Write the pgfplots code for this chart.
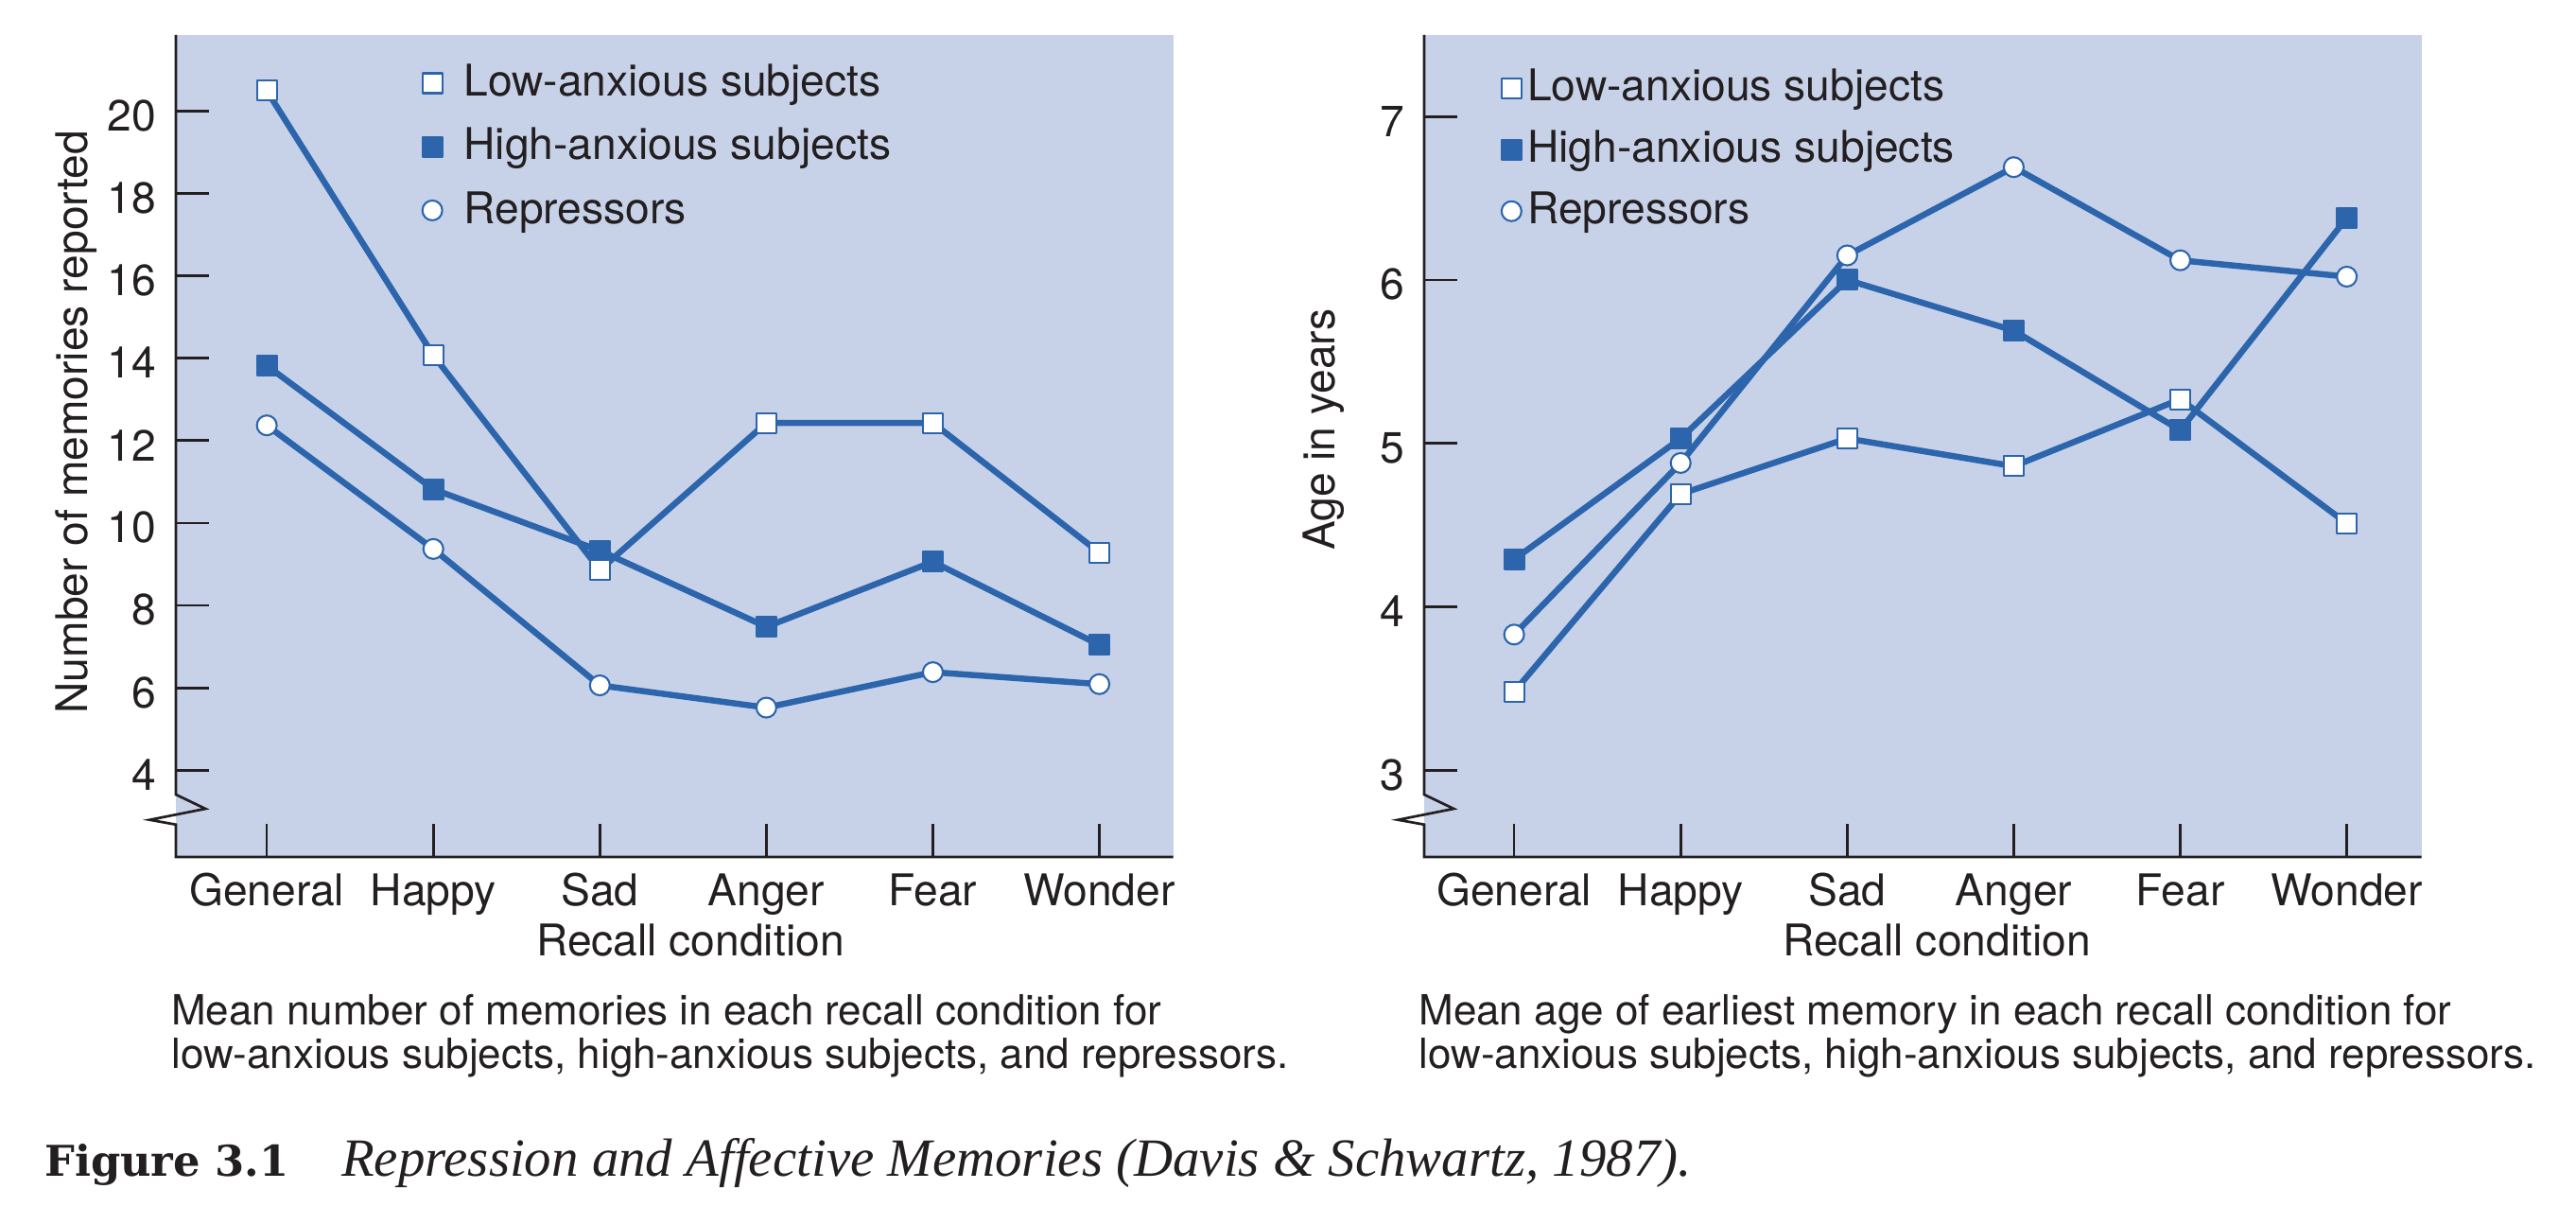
\documentclass[border=0pt]{standalone}
\usepackage{fontspec}
\usepackage{pgfplots}
\pgfplotsset{compat=1.18}
\setmainfont{TeX Gyre Heros}
\newfontfamily\capserif{Liberation Serif}
\newfontfamily\capbold{DejaVu Serif}

\definecolor{bgcol}{RGB}{199,210,233}
\definecolor{lineblue}{RGB}{44,101,172}
\definecolor{inkcol}{RGB}{35,31,32}

\newcommand{\labfont}{\fontsize{13.2}{15.8}\selectfont}
\newcommand{\capfont}{\fontsize{12.56}{15}\selectfont}

\tikzset{spine/.style={draw=inkcol, line width=0.77pt, line join=miter}}

\pgfplotsset{
  series/.style={color=lineblue, line width=1.85pt, line join=round, mark size=3pt},
  lowanx/.style={series, mark=square*, mark options={draw=lineblue, fill=white, line width=0.6pt}},
  highanx/.style={series, mark=square*, mark options={draw=lineblue, fill=lineblue, line width=0.6pt}},
  repress/.style={series, mark=*, mark options={draw=lineblue, fill=white, line width=0.6pt}},
  panel/.style={
    scale only axis, width=301.3pt, height=248.34pt,
    axis lines*=left, axis line style={draw=none},
    axis background/.style={fill=bgcol},
    clip=false,
    tick align=inside, major tick length=9.9pt,
    tick style={draw=inkcol, line width=0.77pt},
    xtick={0,...,5},
    xticklabels={General,Happy,Sad,Anger,Fear,Wonder},
    /pgf/number format/assume math mode=true,
    tick label style={font=\labfont, text=inkcol},
    label style={font=\labfont, text=inkcol},
    xticklabel style={anchor=base, inner sep=0pt, yshift=-14.66pt},
    yticklabel style={anchor=east, inner sep=0pt, xshift=-5.8pt, yshift=-1.4pt},
    xlabel={Recall condition},
    legend image code/.code={\path[##1] plot coordinates {(3pt,3.9pt)};},
    legend cell align=left,
  },
}

\begin{document}
\begin{tikzpicture}
\useasboundingbox (0,0) rectangle (778.286pt,369.714pt);

% Left panel: number of memories
\begin{axis}[panel,
  at={(53.143pt,110.857pt)}, anchor=south west,
  xmin=-0.546, xmax=5.443, ymin=1.895, ymax=21.848,
  ytick={4,6,...,20},
  xlabel style={at={(rel axis cs:0.5158,0)}, anchor=base, inner sep=0pt, yshift=-29.9pt},
  ylabel={Number of memories reported},
  ylabel style={at={(rel axis cs:-0.0885,0.529)}, anchor=base, inner sep=0pt},
  legend style={draw=none, fill=none, inner sep=0pt, outer sep=0pt,
    at={(0.2472,0.9656)}, anchor=north west,
    row sep=6.2pt, column sep=6.5pt,
    font=\labfont, text=inkcol,
    nodes={inner sep=0pt, text height=10pt, text depth=3pt, anchor=base west}},
]
\addlegendimage{lowanx}
\addlegendentry{Low-anxious subjects}
\addlegendimage{highanx}
\addlegendentry{High-anxious subjects}
\addlegendimage{repress}
\addlegendentry{Repressors}

\addplot[highanx, forget plot] coordinates {(0,13.82) (1,10.82) (2,9.33) (3,7.48) (4,9.06) (5,7.04)};
\addplot[repress, forget plot] coordinates {(0,12.37) (1,9.37) (2,6.06) (3,5.52) (4,6.38) (5,6.09)};
\addplot[lowanx, forget plot] coordinates {(0,20.49) (1,14.07) (2,8.86) (3,12.43) (4,12.43) (5,9.28)};

% axis spine with a break in the y axis
\draw[spine] (rel axis cs:0,1) -- (rel axis cs:0,0.0759) -- ++(8.94pt,-4.29pt)
  -- ++(-16.86pt,-3.34pt) -- ++(7.91pt,-1.43pt) -- (rel axis cs:0,0) -- (rel axis cs:1,0);
\end{axis}

% Right panel: age of earliest memory
\begin{axis}[panel,
  at={(430.286pt,110.857pt)}, anchor=south west,
  xmin=-0.54, xmax=5.448, ymin=2.469, ymax=7.5,
  ytick={3,...,7},
  xlabel style={at={(rel axis cs:0.514,0)}, anchor=base, inner sep=0pt, yshift=-29.9pt},
  ylabel={Age in years},
  ylabel style={at={(rel axis cs:-0.0894,0.5198)}, anchor=base, inner sep=0pt},
  legend style={draw=none, fill=none, inner sep=0pt, outer sep=0pt,
    at={(0.0776,0.9598)}, anchor=north west,
    row sep=5.6pt, column sep=1.8pt,
    font=\labfont, text=inkcol,
    nodes={inner sep=0pt, text height=10pt, text depth=3pt, anchor=base west}},
]
\addlegendimage{lowanx}
\addlegendentry{Low-anxious subjects}
\addlegendimage{highanx}
\addlegendentry{High-anxious subjects}
\addlegendimage{repress}
\addlegendentry{Repressors}

\addplot[highanx, forget plot] coordinates {(0,4.29) (1,5.03) (2,6.00) (3,5.69) (4,5.08) (5,6.38)};
\addplot[repress, forget plot] coordinates {(0,3.83) (1,4.88) (2,6.15) (3,6.69) (4,6.12) (5,6.02)};
\addplot[lowanx, forget plot] coordinates {(0,3.48) (1,4.69) (2,5.03) (3,4.86) (4,5.27) (5,4.51)};

\draw[spine] (rel axis cs:0,1) -- (rel axis cs:0,0.0759) -- ++(8.94pt,-4.29pt)
  -- ++(-16.86pt,-3.34pt) -- ++(7.91pt,-1.43pt) -- (rel axis cs:0,0) -- (rel axis cs:1,0);
\end{axis}

% Panel captions
\begin{scope}[every node/.style={anchor=base west, inner sep=0pt, text=inkcol, font=\capfont}]
\node at (51.6pt,60.2pt) {Mean number of memories in each recall condition for};
\node at (51.6pt,47.06pt) {low-anxious subjects, high-anxious subjects, and repressors.};
\node at (428.5pt,60.2pt) {Mean age of earliest memory in each recall condition for};
\node at (428.5pt,47.06pt) {low-anxious subjects, high-anxious subjects, and repressors.};
\end{scope}

% Figure caption
\node[anchor=base west, inner sep=0pt, text=inkcol, font={\capbold\fontsize{12.8}{15}\selectfont\bfseries}] at (13.3pt,14.49pt) {Figure 3.1};
\node[anchor=base west, inner sep=0pt, text=inkcol, font={\capserif\fontsize{16.25}{19}\selectfont\itshape}] at (103.0pt,14.49pt) {Repression and Affective Memories (Davis \& Schwartz, 1987).};
\end{tikzpicture}
\end{document}
